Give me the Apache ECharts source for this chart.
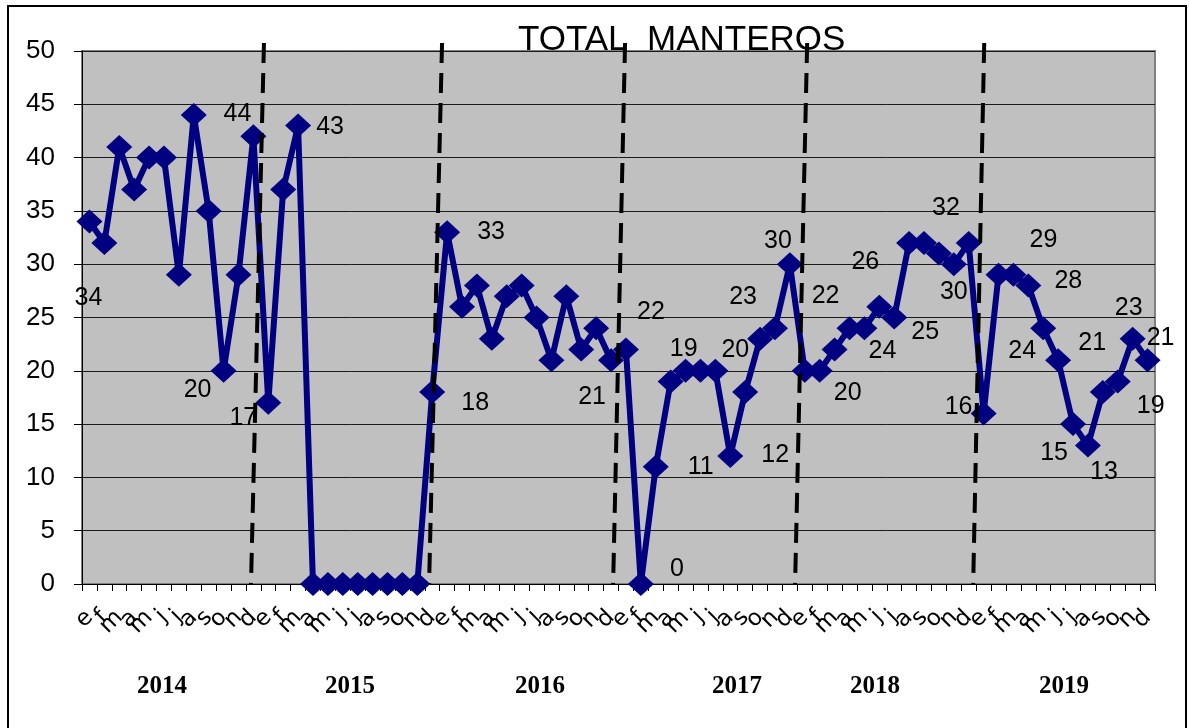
<!DOCTYPE html>
<html>
<head>
<meta charset="utf-8">
<title>TOTAL MANTEROS</title>
<script src="https://cdn.jsdelivr.net/npm/echarts@6/dist/echarts.min.js"></script>
<style>
  html, body { margin: 0; padding: 0; background: #fff; }
  #chart { width: 1189px; height: 728px; }
</style>
</head>
<body>
<div id="chart"></div>
<script>
// meses 2014 - 2019
const months = ['e', 'f', 'm', 'a', 'm', 'j', 'j', 'a', 's', 'o', 'n', 'd']
const years = ['2014', '2015', '2016', '2017', '2018', '2019']
const categories = years.flatMap(() => months)

const manteros = [
  34, 32, 41, 37, 40, 40, 29, 44, 35, 20, 29, 42,
  17, 37, 43, 0, 0, 0, 0, 0, 0, 0, 0, 18,
  33, 26, 28, 23, 27, 28, 25, 21, 27, 22, 24, 21,
  22, 0, 11, 19, 20, 20, 20, 12, 18, 23, 24, 30,
  20, 20, 22, 24, 24, 26, 25, 32, 32, 31, 30, 32,
  16, 29, 29, 28, 24, 21, 15, 13, 18, 19, 23, 21
]

// etiquetas tal como aparecen en el original ('' = sin etiqueta)
const labelText = [
  '34', '', '', '', '', '', '', '', '', '20', '', '44',
  '17', '', '43', '', '', '', '', '', '', '', '', '18',
  '33', '', '', '', '', '', '', '', '', '', '', '21',
  '22', '0', '11', '19', '', '', '20', '12', '', '23', '', '30',
  '', '20', '22', '', '24', '26', '25', '', '32', '', '30', '',
  '16', '29', '', '28', '24', '21', '15', '13', '', '19', '23', '21'
]

// separadores de año: [x arriba, x abajo] en unidades de categoría
const yearBreaks = [[12.21, 11.34], [24.16, 23.29], [36.44, 35.64], [48.66, 47.85], [60.54, 59.8]]

// desplazamiento de cada etiqueta respecto a su punto (px)
const labelOffsets = {
  0: [-1, 77], 9: [-26, 19], 11: [-16, -22], 12: [-25, 15], 14: [32, 1],
  23: [43, 11], 24: [44, 0], 35: [-19, 37], 36: [25, -37], 37: [36, -15],
  38: [45, 0], 39: [13, -32], 42: [20, -21], 43: [45, -1], 45: [-17, -42],
  47: [-12, -23], 49: [28, 22], 50: [-9, -53], 52: [18, 23], 53: [-14, -45],
  54: [31, 15], 56: [22, -35], 58: [0, 28], 60: [-25, -6], 61: [45, -35],
  63: [40, -4], 64: [-21, 23], 65: [34, -17], 66: [-19, 29], 67: [16, 27],
  69: [33, 25], 70: [-4, -31], 71: [13, -22]
}
const yearLabelX = [162, 350, 540, 737, 875, 1064]

const lineData = manteros.map((v, i) => {
  if (!labelText[i]) return v
  return {
    value: v,
    label: {
      show: true,
      position: 'inside',
      offset: labelOffsets[i] || [0, 0],
      formatter: labelText[i]
    }
  }
})

const breakSeries = yearBreaks.map(b => ({
  type: 'line',
  xAxisIndex: 1,
  data: [[b[0], 50.75], [b[1], 0]],
  symbol: 'none',
  clip: false,
  silent: true,
  z: 5,
  lineStyle: { color: '#000', width: 4, type: [20, 10] }
}))

const chart = echarts.init(document.getElementById('chart'))
chart.setOption({
  animation: false,
  title: {
    text: 'TOTAL  MANTEROS',
    left: 513,
    top: 18,
    textStyle: { fontFamily: 'Liberation Sans', fontSize: 35, fontWeight: 'normal', color: '#000' }
  },
  grid: {
    left: 82,
    right: 34,
    top: 51,
    bottom: 144,
    show: true,
    backgroundColor: '#c0c0c0',
    borderColor: '#808080',
    borderWidth: 2
  },
  xAxis: [{
    type: 'category',
    data: categories,
    boundaryGap: true,
    axisLine: { lineStyle: { color: '#000', width: 1 } },
    axisTick: { show: true, length: 7, lineStyle: { color: '#000' } },
    axisLabel: {
      interval: 0,
      rotate: 45,
      margin: 30,
      fontFamily: 'DejaVu Sans',
      fontSize: 23,
      color: '#000'
    }
  }, {
    type: 'value',
    min: 0,
    max: 72,
    show: false
  }],
  yAxis: {
    type: 'value',
    min: 0,
    max: 50,
    interval: 5,
    axisLine: { show: true, lineStyle: { color: '#000', width: 1 } },
    axisTick: { show: true, length: 8, lineStyle: { color: '#000' } },
    splitLine: { lineStyle: { color: '#1a1a1a', width: 1 } },
    axisLabel: { margin: 27, fontFamily: 'Liberation Sans', fontSize: 26, color: '#000' }
  },
  series: [{
    name: 'manteros',
    type: 'line',
    data: lineData,
    symbol: 'diamond',
    symbolSize: [26, 24],
    color: '#000080',
    lineStyle: { color: '#000080', width: 6 },
    itemStyle: { color: '#000080' },
    label: { fontFamily: 'Liberation Sans', fontSize: 25, color: '#000' },
    z: 3
  }].concat(breakSeries),
  graphic: [{
    type: 'rect',
    shape: { x: 8, y: 6, width: 1178, height: 740 },
    style: { fill: 'none', stroke: '#000', lineWidth: 2 },
    silent: true
  }].concat(years.map((y, i) => ({
    type: 'text',
    x: yearLabelX[i],
    y: 687,
    style: {
      text: y,
      font: 'bold 25px "Liberation Serif"',
      fill: '#000',
      align: 'center',
      verticalAlign: 'middle'
    }
  })))
})
</script>
</body>
</html>
